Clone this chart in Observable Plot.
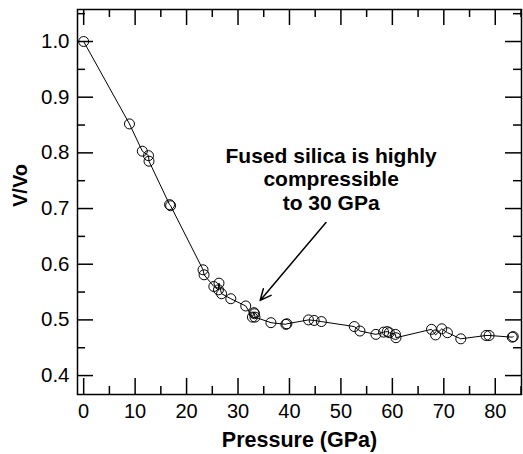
<!DOCTYPE html>
<html>
<head>
<meta charset="utf-8">
<script src="https://cdn.jsdelivr.net/npm/d3@7"></script>
<script src="https://cdn.jsdelivr.net/npm/@observablehq/plot@0.6"></script>
<style>
  html, body { margin: 0; padding: 0; background: #fff; }
  #chart svg { display: block; }
</style>
</head>
<body>
<div id="chart"></div>
<script>
// Data
const pressure = [0, 8.9, 11.4, 12.6, 12.7, 16.7, 16.9, 23.2, 23.4, 25.3, 26.2, 26.3, 26.8, 28.6, 31.5, 32.8, 33.1, 33.2, 33.3, 36.4, 39.3, 39.5, 43.7, 44.8, 46.2, 52.6, 53.7, 56.8, 58.3, 59.0, 59.4, 60.6, 60.7, 67.6, 68.4, 69.6, 70.7, 73.3, 78.2, 78.8, 83.3, 83.5];
const volume   = [1.0, 0.852, 0.803, 0.795, 0.785, 0.707, 0.705, 0.590, 0.581, 0.560, 0.554, 0.566, 0.547, 0.538, 0.525, 0.505, 0.513, 0.511, 0.505, 0.495, 0.492, 0.493, 0.500, 0.499, 0.497, 0.488, 0.480, 0.474, 0.478, 0.479, 0.477, 0.474, 0.468, 0.483, 0.473, 0.484, 0.477, 0.466, 0.472, 0.472, 0.469, 0.470];

const xMajor = [0, 10, 20, 30, 40, 50, 60, 70, 80];
const xMinor = [5, 15, 25, 35, 45, 55, 65, 75, 85];
const yMajor = [0.4, 0.5, 0.6, 0.7, 0.8, 0.9, 1.0];
const yMinor = [0.45, 0.55, 0.65, 0.75, 0.85, 0.95, 1.05];

const annotationText = ["Fused silica is highly\ncompressible\nto 30 GPa"];
const annotationPos = {x: 48.1, y: 0.753};
const arrowData = [{x1: 47.1, y1: 0.675, x2: 34.3, y2: 0.535}];

const xTitle = "Pressure (GPa)";
const yTitle = "V/Vo";

const data = pressure.map((p, i) => ({p, v: volume[i]}));

const W = 523, H = 454;
const mL = 77, mR = 2, mT = 9, mB = 60;
const plotW = W - mL - mR, plotH = H - mT - mB;
const majorLen = 16, minorLen = 8;
const font = "'Liberation Sans', Arial, Helvetica, sans-serif";

const chart = Plot.plot({
  width: W,
  height: H,
  marginLeft: mL,
  marginRight: mR,
  marginTop: mT,
  marginBottom: mB,
  style: {fontFamily: font, background: "#fff", color: "#000"},
  x: {domain: [-1.2, 85.1], axis: null},
  y: {domain: [0.366, 1.0575], axis: null},
  marks: [
    // tick labels
    Plot.axisX(xMajor, {tickSize: 0, tickPadding: 9, fontSize: 20, label: null, tickFormat: d => String(d)}),
    Plot.axisY(yMajor, {tickSize: 0, tickPadding: 8, fontSize: 20.5, label: null, tickFormat: d3.format(".1f")}),
    // inward ticks: bottom/top
    Plot.tickX(xMajor, {x: d => d, insetTop: plotH - majorLen, strokeWidth: 1.5}),
    Plot.tickX(xMinor, {x: d => d, insetTop: plotH - minorLen, strokeWidth: 1.5}),
    Plot.tickX(xMajor, {x: d => d, insetBottom: plotH - majorLen, strokeWidth: 1.5}),
    Plot.tickX(xMinor, {x: d => d, insetBottom: plotH - minorLen, strokeWidth: 1.5}),
    // inward ticks: left/right
    Plot.tickY(yMajor, {y: d => d, insetRight: plotW - majorLen, strokeWidth: 1.5}),
    Plot.tickY(yMinor, {y: d => d, insetRight: plotW - minorLen, strokeWidth: 1.5}),
    Plot.tickY(yMajor, {y: d => d, insetLeft: plotW - majorLen, strokeWidth: 1.5}),
    Plot.tickY(yMinor, {y: d => d, insetLeft: plotW - minorLen, strokeWidth: 1.5}),
    Plot.frame({stroke: "#000", strokeWidth: 1.5}),
    // data
    Plot.line(data, {x: "p", y: "v", stroke: "#000", strokeWidth: 1}),
    Plot.dot(data, {x: "p", y: "v", r: 5, stroke: "#000", strokeWidth: 1, fill: "none"}),
    // annotation
    Plot.arrow(arrowData, {x1: "x1", y1: "y1", x2: "x2", y2: "y2", stroke: "#000", strokeWidth: 1.5, headLength: 12, headAngle: 50}),
    Plot.text(annotationText, {x: () => annotationPos.x, y: () => annotationPos.y, text: d => d, fontSize: 21, fontWeight: "bold", lineHeight: 1.1, lineAnchor: "middle", textAnchor: "middle", fill: "#000"}),
    // axis titles
    Plot.text([xTitle], {frameAnchor: "bottom", text: d => d, dy: 46, lineAnchor: "middle", fontSize: 21.5, fontWeight: "bold", fill: "#000"}),
    Plot.text([yTitle], {frameAnchor: "left", text: d => d, dx: -57, dy: 5, rotate: -90, lineAnchor: "middle", fontSize: 20, fontWeight: "bold", fill: "#000"})
  ]
});

document.getElementById("chart").appendChild(chart);
</script>
</body>
</html>
